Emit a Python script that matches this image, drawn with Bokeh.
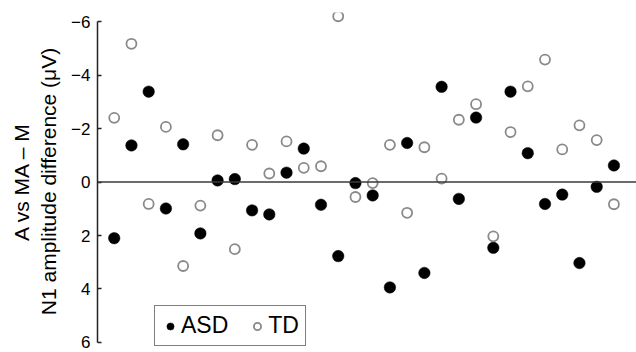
from bokeh.plotting import figure
from bokeh.models import Range1d, Span, Legend, LegendItem, LinearAxis, FixedTicker
from bokeh.embed import file_html
from bokeh.resources import INLINE

subjects = list(range(1, 31))
asd = [2.10, -1.37, -3.38, 0.99, -1.41, 1.92, -0.06, -0.11, 1.06, 1.21,
       -0.35, -1.25, 0.85, 2.77, 0.04, 0.50, 3.94, -1.46, 3.40, -3.56,
       0.63, -2.41, 2.46, -3.38, -1.08, 0.82, 0.47, 3.03, 0.18, -0.62]
td = [-2.40, -5.17, 0.82, -2.06, 3.14, 0.88, -1.75, 2.51, -1.39, -0.32,
      -1.52, -0.53, -0.59, -6.20, 0.56, 0.04, -1.39, 1.15, -1.30, -0.13,
      -2.33, -2.91, 2.03, -1.87, -3.58, -4.58, -1.22, -2.12, -1.57, 0.83]
y_ticks = [-6, -4, -2, 0, 2, 4, 6]

p = figure(width=636, height=352, output_backend="svg", toolbar_location=None,
           x_range=Range1d(0.03, 31.31), y_range=Range1d(6.30, -6.34),
           y_axis_location=None, x_axis_location=None,
           min_border_left=97, min_border_right=0, min_border_top=12, min_border_bottom=2)
p.outline_line_color = None
p.grid.visible = False
p.background_fill_color = "white"

yax = LinearAxis(ticker=FixedTicker(ticks=y_ticks), bounds=(-6, 6))
yax.axis_line_color = "#222222"
yax.axis_line_width = 1.5
yax.major_tick_in = 4
yax.major_tick_out = 0
yax.major_tick_line_color = "#222222"
yax.major_tick_line_width = 1.5
yax.minor_tick_line_color = None
yax.major_label_text_font = "Liberation Sans"
yax.major_label_text_font_size = "17px"
yax.major_label_text_color = "black"
yax.major_label_standoff = 7
yax.axis_label = "A vs MA \u2013 M\nN1 amplitude difference (\u03bcV)"
yax.axis_label_text_font = "Liberation Sans"
yax.axis_label_text_font_style = "normal"
yax.axis_label_text_font_size = "21px"
yax.axis_label_text_color = "black"
yax.axis_label_standoff = 8
p.add_layout(yax, "left")

p.add_layout(Span(location=0, dimension="width", line_color="#3a3a3a", line_width=1.6))

r_asd = p.scatter(subjects, asd, size=11.5, fill_color="black", line_color="black",
                  line_width=0.5, marker="circle")
r_td = p.scatter(subjects, td, size=10, fill_color=None, line_color="#8a8a8a",
                 line_width=1.8, marker="circle")

legend = Legend(items=[LegendItem(label="ASD", renderers=[r_asd]),
                       LegendItem(label="TD", renderers=[r_td])],
                orientation="horizontal", location=(57, 4))
legend.label_text_font = "Liberation Sans"
legend.label_text_font_size = "23px"
legend.label_text_color = "black"
legend.border_line_color = "black"
legend.border_line_width = 1.5
legend.glyph_width = 18
legend.glyph_height = 20
legend.label_standoff = 2
legend.spacing = 20
legend.padding = 6
legend.margin = 0
legend.background_fill_alpha = 1
p.add_layout(legend, "center")

open("out.html", "w").write(file_html(p, INLINE))
